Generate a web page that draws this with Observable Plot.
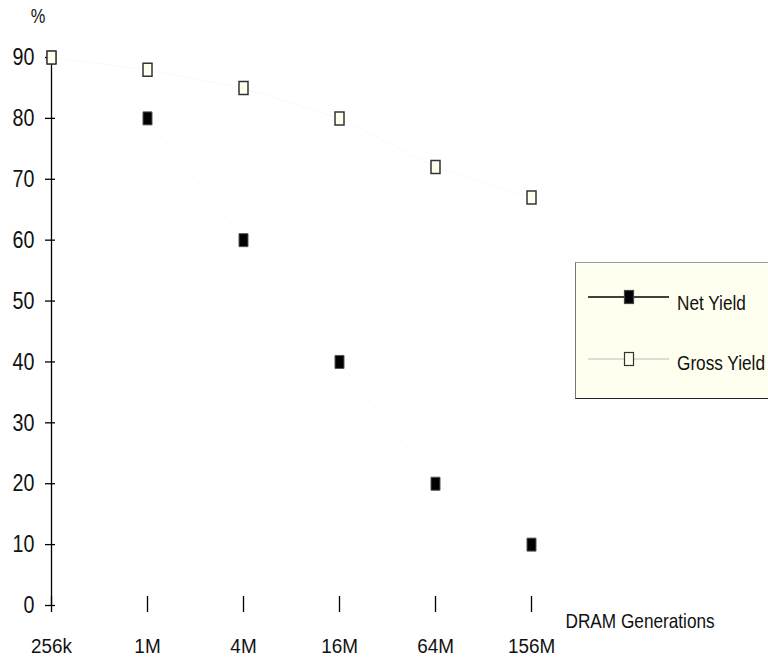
<!DOCTYPE html>
<html>
<head>
<meta charset="utf-8">
<script src="https://cdn.jsdelivr.net/npm/d3@7"></script>
<script src="https://cdn.jsdelivr.net/npm/@observablehq/plot@0.6"></script>
<style>
  html, body { margin: 0; padding: 0; background: #fff; }
  #wrap { position: relative; width: 768px; height: 658px; overflow: hidden;
          font-family: "Liberation Sans", Arimo, Arial, sans-serif; }
  #legend { position: absolute; left: 575px; top: 262px; width: 210px; height: 137px;
            background: #fffff0; box-sizing: border-box;
            border-left: 1.5px solid #777; border-top: 1px solid #999; border-bottom: 1.5px solid #222; }
  #legend svg { position: absolute; left: 0; top: 0; }
</style>
</head>
<body>
<div id="wrap"></div>
<script>
const generations = ["256k", "1M", "4M", "16M", "64M", "156M"];
const netYield = [90, 80, 60, 40, 20, 10];
const grossYield = [90, 88, 85, 80, 72, 67];
const yTicks = [0, 10, 20, 30, 40, 50, 60, 70, 80, 90];
const xLabel = "DRAM Generations";
const yLabel = "%";
const seriesNames = ["Net Yield", "Gross Yield"];

const net = generations.map((g, i) => ({gen: g, value: netYield[i]}));
const gross = generations.map((g, i) => ({gen: g, value: grossYield[i]}));

const rectSymbol = (w, h) => ({draw(ctx) { ctx.rect(-w / 2, -h / 2, w, h); }});
const FONT = '"Liberation Sans", Arimo, Arial, sans-serif';
const SQUEEZE = 0.82;
const SQUEEZE_XTICK = 0.9;

const chart = Plot.plot({
  width: 768,
  height: 658,
  marginLeft: 50,
  marginRight: 236,
  marginTop: 57,
  marginBottom: 53,
  style: {background: "transparent", color: "#000", fontFamily: FONT},
  x: {type: "point", domain: generations, padding: 0},
  y: {domain: [0, 90], ticks: yTicks},
  marks: [
    Plot.line(net, {x: "gen", y: "value", stroke: "#fbfbfb", strokeWidth: 1}),
    Plot.line(gross, {x: "gen", y: "value", stroke: "#f9f9f9", strokeWidth: 1}),
    Plot.ruleX([generations[0]], {x: d => d, y1: 0, y2: 90, stroke: "#000", strokeWidth: 1.3}),
    Plot.ruleY([0], {y: d => d, x1: generations[0], x2: generations[generations.length - 1], stroke: "#000", strokeWidth: 1.3}),
    Plot.axisY(yTicks, {anchor: "left", tickSize: 10, dx: 5, tickFormat: () => "", label: null, stroke: "#000", strokeWidth: 1.3}),
    Plot.axisY(yTicks, {anchor: "left", tickSize: 0, tickPadding: 16, label: null, fontSize: 24, fill: "#111"}),
    Plot.axisX(generations, {anchor: "bottom", tickSize: 16, dy: -9, tickFormat: () => "", label: null, stroke: "#000", strokeWidth: 1.3}),
    Plot.axisX(generations, {anchor: "bottom", tickSize: 0, tickPadding: 33, label: null, fontSize: 21, fill: "#111"}),
    Plot.text([xLabel], {frameAnchor: "bottom-right", text: d => d, textAnchor: "start", lineAnchor: "middle", dx: 33, dy: 16, fontSize: 21, fill: "#111"}),
    Plot.text([yLabel], {frameAnchor: "top-left", text: d => d, textAnchor: "middle", lineAnchor: "middle", dx: -12.5, dy: -41, fontSize: 20, fill: "#111"}),
    Plot.dot(net, {x: "gen", y: "value", symbol: rectSymbol(9, 13), fill: "#000", stroke: "#555", strokeWidth: 1}),
    Plot.dot(gross, {x: "gen", y: "value", symbol: rectSymbol(9, 13), fill: "#fffff0", stroke: "#333", strokeWidth: 1.5})
  ]
});

// Horizontally condense every text (the original uses a narrow face)
chart.querySelectorAll("text").forEach(t => {
  const g = t.closest("g[aria-label]");
  const s = g && g.getAttribute("aria-label") === "x-axis tick label" ? SQUEEZE_XTICK : SQUEEZE;
  const tr = t.getAttribute("transform");
  if (tr) {
    t.setAttribute("transform", tr + ` scale(${s},1)`);
  } else {
    const x = +(t.getAttribute("x") || 0), y = +(t.getAttribute("y") || 0);
    t.setAttribute("x", 0); t.setAttribute("y", 0);
    t.setAttribute("transform", `translate(${x},${y}) scale(${s},1)`);
  }
});

const wrap = document.getElementById("wrap");
wrap.appendChild(chart);

// Legend (overlay inside the plot area)
const legend = document.createElement("div");
legend.id = "legend";
const ns = "http://www.w3.org/2000/svg";
const lsvg = document.createElementNS(ns, "svg");
lsvg.setAttribute("width", 210);
lsvg.setAttribute("height", 137);
const entries = [
  {name: seriesNames[0], line: "#000", lw: 1.3, fill: "#000", stroke: "#444", cy: 34, ty: 46.5},
  {name: seriesNames[1], line: "#bbb", lw: 1, fill: "#fffff0", stroke: "#333", cy: 96, ty: 106.5}
];
for (const e of entries) {
  const ln = document.createElementNS(ns, "line");
  ln.setAttribute("x1", 12); ln.setAttribute("x2", 93);
  ln.setAttribute("y1", e.cy); ln.setAttribute("y2", e.cy);
  ln.setAttribute("stroke", e.line); ln.setAttribute("stroke-width", e.lw);
  lsvg.appendChild(ln);
  const r = document.createElementNS(ns, "rect");
  r.setAttribute("x", 48.5); r.setAttribute("y", e.cy - 6.5);
  r.setAttribute("width", 9); r.setAttribute("height", 13);
  r.setAttribute("fill", e.fill); r.setAttribute("stroke", e.stroke); r.setAttribute("stroke-width", 1.2);
  lsvg.appendChild(r);
  const t = document.createElementNS(ns, "text");
  t.setAttribute("transform", `translate(101,${e.ty}) scale(${SQUEEZE},1)`);
  t.setAttribute("font-size", 21);
  t.setAttribute("fill", "#111");
  t.setAttribute("font-family", FONT);
  t.textContent = e.name;
  lsvg.appendChild(t);
}
legend.appendChild(lsvg);
wrap.appendChild(legend);
</script>
</body>
</html>
